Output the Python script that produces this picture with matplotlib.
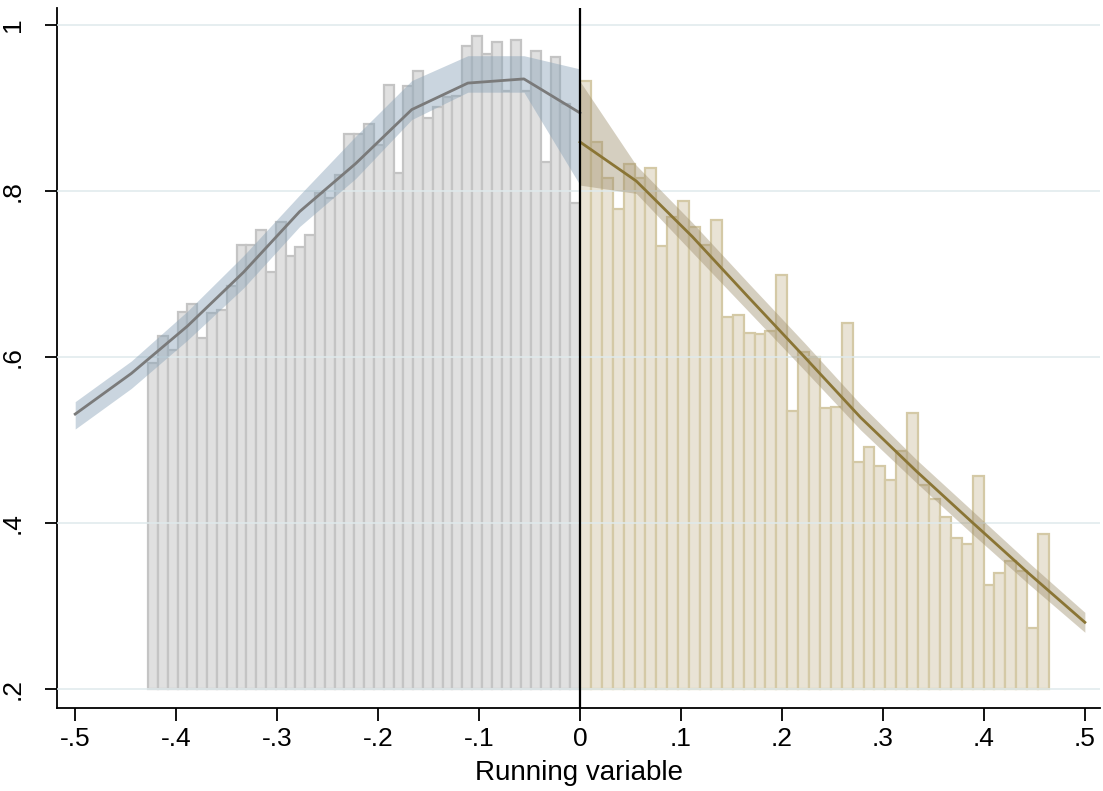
import numpy as np
import matplotlib
matplotlib.use("Agg")
import matplotlib.pyplot as plt

plt.rcParams["font.family"] = ["Liberation Sans", "DejaVu Sans"]

# Binned means below the cutoff (44 equal-width bins)
left_bin_range = (-0.4277, 0.0)
left_means = [0.592, 0.625, 0.608, 0.654, 0.664, 0.623, 0.653, 0.656, 0.685, 0.735,
              0.735, 0.753, 0.702, 0.763, 0.721, 0.733, 0.747, 0.798, 0.792, 0.819,
              0.869, 0.869, 0.881, 0.855, 0.928, 0.822, 0.927, 0.945, 0.888, 0.901,
              0.913, 0.914, 0.975, 0.987, 0.965, 0.980, 0.920, 0.982, 0.920, 0.969,
              0.835, 0.962, 0.905, 0.785]

# Binned means above the cutoff (43 equal-width bins)
right_bin_range = (0.0, 0.4644)
right_means = [0.933, 0.859, 0.816, 0.778, 0.833, 0.815, 0.828, 0.734, 0.769, 0.788,
               0.757, 0.735, 0.765, 0.648, 0.650, 0.629, 0.628, 0.631, 0.699, 0.535,
               0.606, 0.600, 0.538, 0.539, 0.641, 0.473, 0.491, 0.469, 0.451, 0.486,
               0.532, 0.445, 0.429, 0.407, 0.382, 0.375, 0.456, 0.325, 0.340, 0.354,
               0.342, 0.273, 0.387]

# Local fits with confidence bands
left_fit_x = [-0.5, -0.4444, -0.3889, -0.3333, -0.2778, -0.2222, -0.1667, -0.1111, -0.0556, 0.0]
left_fit = [0.531, 0.580, 0.637, 0.702, 0.775, 0.833, 0.898, 0.930, 0.935, 0.894]
left_hi = [0.546, 0.595, 0.655, 0.722, 0.795, 0.866, 0.933, 0.963, 0.963, 0.947]
left_lo = [0.513, 0.562, 0.620, 0.683, 0.757, 0.815, 0.886, 0.919, 0.919, 0.807]

right_fit_x = [0.0, 0.0556, 0.1111, 0.1667, 0.2222, 0.2778, 0.3333, 0.3889, 0.4444, 0.5]
right_fit = [0.859, 0.812, 0.745, 0.672, 0.600, 0.527, 0.462, 0.400, 0.339, 0.280]
right_hi = [0.932, 0.831, 0.762, 0.689, 0.617, 0.543, 0.476, 0.414, 0.352, 0.292]
right_lo = [0.807, 0.797, 0.726, 0.655, 0.584, 0.512, 0.448, 0.386, 0.326, 0.268]

x_ticks = [-0.5, -0.4, -0.3, -0.2, -0.1, 0.0, 0.1, 0.2, 0.3, 0.4, 0.5]
x_tick_labels = ["-.5", "-.4", "-.3", "-.2", "-.1", "0", ".1", ".2", ".3", ".4", ".5"]
y_ticks = [0.2, 0.4, 0.6, 0.8, 1.0]
y_tick_labels = [".2", ".4", ".6", ".8", "1"]
x_title = "Running variable"

base = 0.2

fig = plt.figure(figsize=(11.03, 7.91), dpi=100)
ax = fig.add_axes([0.0517, 0.1049, 0.9456, 0.8850])


def draw_bins(lo_hi, means, face, edge):
    edges = np.linspace(lo_hi[0], lo_hi[1], len(means) + 1)
    heights = np.asarray(means) - base
    ax.bar(edges[:-1], heights, width=np.diff(edges), bottom=base, align="edge",
           color=face, edgecolor=edge, linewidth=1.6, zorder=2)


draw_bins(left_bin_range, left_means, "#e0e0e0", "#c4c4c4")
draw_bins(right_bin_range, right_means, "#e9e3d5", "#d4c9a6")

# horizontal grid over the bars
for yv in y_ticks:
    ax.axhline(yv, color="#dfeaec", linewidth=1.4, alpha=0.8, zorder=3)

ax.fill_between(left_fit_x, left_lo, left_hi, color="#8aa3b8", alpha=0.45,
                linewidth=0, zorder=4)
ax.fill_between(right_fit_x, right_lo, right_hi, color="#9d8d6a", alpha=0.42,
                linewidth=0, zorder=4)
ax.plot(left_fit_x, left_fit, color="#7a7a7a", linewidth=2.0, zorder=5)
ax.plot(right_fit_x, right_fit, color="#8a7535", linewidth=2.0, zorder=5)

ax.axvline(0.0, color="black", linewidth=1.6, zorder=6)

ax.set_xlim(-0.518, 0.515)
ax.set_ylim(0.1767, 1.0205)

ax.set_xticks(x_ticks)
ax.set_xticklabels(x_tick_labels, fontsize=19)
ax.set_yticks(y_ticks)
ax.set_yticklabels(y_tick_labels, fontsize=19, rotation=90, va="center")
ax.tick_params(axis="both", direction="out", length=9, width=1.3, color="black")
ax.tick_params(axis="x", pad=5)
ax.tick_params(axis="y", pad=14)
ax.set_xlabel(x_title, fontsize=20, labelpad=6)

for side in ("top", "right"):
    ax.spines[side].set_visible(False)
for side in ("left", "bottom"):
    ax.spines[side].set_linewidth(1.3)

fig.savefig("out.png", dpi=100)
